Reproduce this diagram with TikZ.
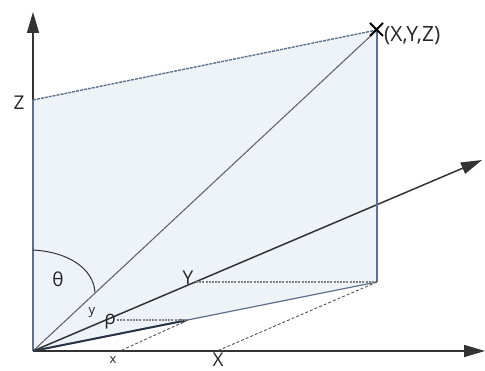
\documentclass[tikz,border=0pt]{standalone}
\usepackage{fontspec}
\setmainfont{Open Sans}
\usetikzlibrary{arrows.meta}
\definecolor{planefill}{HTML}{EEF3F8}
\definecolor{edgecol}{HTML}{5E718A}
\definecolor{axiscol}{HTML}{333333}
\definecolor{rhocol}{HTML}{2A3548}
\tikzset{
  axisline/.style={draw=axiscol,line width=1.5pt,-{Triangle[length=21pt,width=12pt]}},
  edgeline/.style={draw=edgecol,line width=1.6pt},
  dotline/.style={draw=gray,line width=1.1pt,dash pattern=on 2pt off 1.2pt},
  dashline/.style={draw=axiscol!85,line width=0.9pt,dash pattern=on 3pt off 2pt},
  lbl/.style={font=\fontsize{19}{19}\selectfont,text=black!85,inner sep=0pt},
  biglbl/.style={font=\fontsize{21}{21}\selectfont,text=black!85,inner sep=0pt},
  smalllbl/.style={font=\fontsize{13}{13}\selectfont,text=black!85,inner sep=0pt}
}
\begin{document}
\begin{tikzpicture}[x=1pt,y=-1pt]
\useasboundingbox (0,0) rectangle (485,371);
\coordinate (O) at (33,351);
\coordinate (Ztop) at (33,12);
\coordinate (Xend) at (485,351);
\coordinate (Yend) at (482,160);
\coordinate (Zp) at (33,100);
\coordinate (P) at (377,30);
\coordinate (Q) at (377,282);
\coordinate (R) at (188,320);
\coordinate (Yp) at (196,282);
\coordinate (Rs) at (117,320);
\coordinate (xp) at (120,351);
\coordinate (Xp) at (217,351);
\coordinate (A1) at (33,250);
\coordinate (A2) at (95,292);
% plane
\fill[planefill] (O) -- (Zp) -- (P) -- (Q) -- cycle;
% axes
\draw[axisline] (O) -- (Ztop);
\draw[axisline] (O) -- (Xend);
\draw[axisline] (O) -- (Yend);
% plane edges
\draw[edgeline] (O) -- (Zp);
\draw[edgeline] (P) -- (Q);
\draw[draw=edgecol,line width=1.2pt] (Q) -- (O);
\draw[draw=edgecol,line width=1.4pt,dash pattern=on 3pt off 1pt] (Zp) -- (P);
% diagonal
\draw[draw=axiscol!80,line width=1pt] (O) -- (P);
% rho vector
\draw[draw=rhocol,line width=2pt,-{Stealth[length=8pt,width=5pt]}] (O) -- (R);
% projections
\draw[dotline] (Yp) -- (Q);
\draw[dotline] (Rs) -- (R);
\draw[dashline] (R) -- (xp);
\draw[dashline] (Q) -- (Xp);
% angle arc
\draw[draw=axiscol,line width=1pt] (A1) .. controls (68,252) and (93,268) .. (A2);
% marker
\draw[draw=black,line width=1.8pt] (370,23) -- (383,36) (370,36) -- (383,23);
% labels
\node[biglbl,anchor=west] (lxyz) at (384,36) {(X,Y,Z)};
\node[lbl] (lZ) at (19,103) {Z};
\node[lbl] (lth) at (58,279) {θ};
\node[lbl] (lY) at (188,278) {Y};
\node[lbl] (lrho) at (110,322) {ρ};
\node[smalllbl] (ly) at (92,313) {y};
\node[smalllbl] (lx) at (113,360) {x};
\node[lbl,anchor=south] (lX) at (218,367) {X};
\end{tikzpicture}
\end{document}
